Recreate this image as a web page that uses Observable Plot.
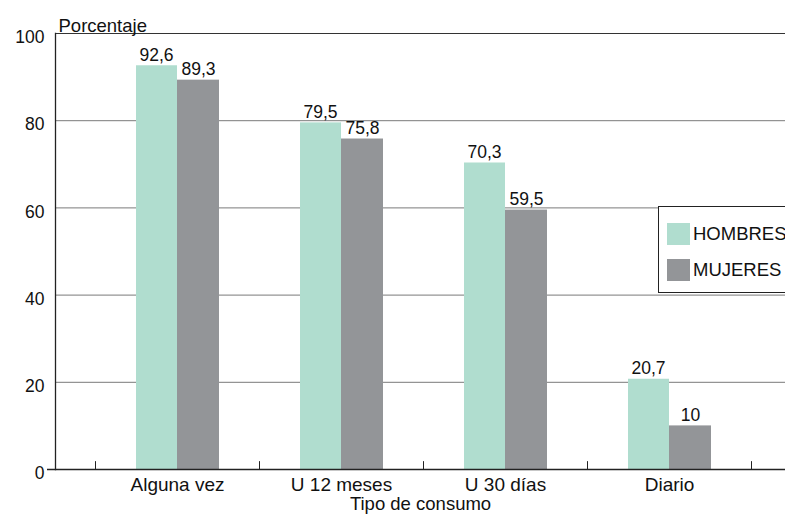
<!DOCTYPE html>
<html><head><meta charset="utf-8">
<script src="https://cdn.jsdelivr.net/npm/d3@7"></script>
<script src="https://cdn.jsdelivr.net/npm/@observablehq/plot@0.6"></script>
<style>
body{margin:0;overflow:hidden;width:785px;height:515px;position:relative;font-family:"Liberation Sans",Arial,sans-serif;background:#fff}
#legend{position:absolute;left:658px;top:206px;width:150px;height:87px;border:1px solid #222;background:#fff;box-sizing:border-box}
.item{position:absolute;left:8px;display:flex;align-items:center;font-size:18.5px;color:#111;white-space:nowrap}
.sw{width:23px;height:22px;margin-right:3px}
</style></head><body><div id="chart"></div><div id="legend"></div>
<script>
const categories = ["Alguna vez","U 12 meses","U 30 días","Diario"];
const hombres = [92.6,79.5,70.3,20.7];
const mujeres = [89.3,75.8,59.5,10];
const series = ["HOMBRES","MUJERES"];
const colors = ["#b0ddcf","#939598"];
const yTicks = [0,20,40,60,80,100];
const gridValues = [20,40,60,80];

const dataH = categories.map((c,i)=>({cat:c, v:hombres[i]}));
const dataM = categories.map((c,i)=>({cat:c, v:mujeres[i]}));
const fmt = d => String(d).replace(".", ",");
const last = [categories[categories.length-1]];

const plot = Plot.plot({
  width: 785, height: 515,
  marginLeft: 55, marginRight: 0, marginTop: 33, marginBottom: 46,
  style: {fontFamily: '"Liberation Sans", Arial, sans-serif', fontSize: "17px", color: "#111", background: "#fff"},
  x: {domain: categories, range: [95, 751], padding: 0},
  y: {domain: [0, 100]},
  marks: [
    Plot.ruleY(gridValues, {stroke: "#7a7a7a", strokeWidth: 1}),
    Plot.ruleY([100], {stroke: "#333", strokeWidth: 1.2}),
    Plot.barY(dataH, {x: "cat", y: "v", fill: colors[0], insetLeft: 41, insetRight: 82}),
    Plot.barY(dataM, {x: "cat", y: "v", fill: colors[1], insetLeft: 82, insetRight: 40}),
    Plot.text(dataH, {x: "cat", y: "v", text: d => fmt(d.v), dx: -21, dy: -5, lineAnchor: "bottom", fontSize: 17.5, fill: "#111"}),
    Plot.text(dataM, {x: "cat", y: "v", text: d => fmt(d.v), dx: 21, dy: -5, lineAnchor: "bottom", fontSize: 17.5, fill: "#111"}),
    Plot.ruleX(categories, {x: d => d, y1: 0, y2: 1.8, dx: -82, stroke: "#222"}),
    Plot.ruleX(last, {x: d => d, y1: 0, y2: 1.8, dx: 82, stroke: "#222"}),
    Plot.ruleY([0], {stroke: "#222", strokeWidth: 1.3, insetLeft: -8}),
    Plot.frame({anchor: "left", stroke: "#222", strokeWidth: 1.3}),
    Plot.axisY({ticks: yTicks, tickSize: 0, tickPadding: 11, dy: 4, label: null, fontSize: 17.5, fill: "#111"}),
    Plot.axisX({tickSize: 0, tickPadding: 8, label: null, fontSize: 19, fill: "#111"}),
    Plot.text(["Porcentaje"], {frameAnchor: "top-left", text: d => d, textAnchor: "start", dx: 3, dy: -15, fontSize: 18.5, fill: "#111"}),
    Plot.text(["Tipo de consumo"], {frameAnchor: "bottom", text: d => d, dy: 40, fontSize: 18.5, fill: "#111"})
  ]
});
document.getElementById("chart").appendChild(plot);

const legend = document.getElementById("legend");
series.forEach((s,i)=>{
  const it = document.createElement("div");
  it.className = "item";
  it.style.top = (16 + i*36) + "px";
  it.innerHTML = `<div class="sw" style="background:${colors[i]}"></div><span>${s}</span>`;
  legend.appendChild(it);
});
</script></body></html>
